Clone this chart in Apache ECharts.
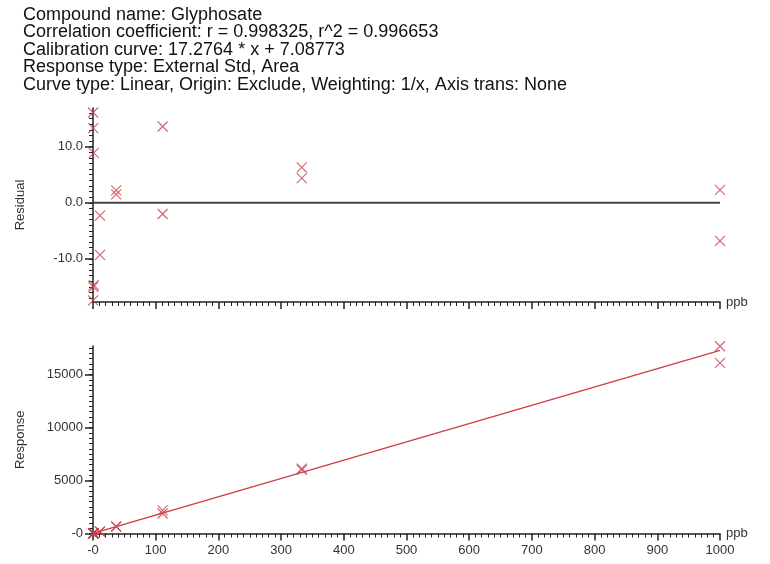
<!DOCTYPE html>
<html>
<head>
<meta charset="utf-8">
<script src="https://cdn.jsdelivr.net/npm/echarts@6/dist/echarts.min.js"></script>
<style>
  html, body { margin: 0; padding: 0; background: #fff; }
  #chart { width: 770px; height: 564px; }
</style>
</head>
<body>
<div id="chart"></div>
<script>
// header lines above the plots
var headerLines = [
  'Compound name: Glyphosate',
  'Correlation coefficient: r = 0.998325, r^2 = 0.996653',
  'Calibration curve: 17.2764 * x + 7.08773',
  'Response type: External Std, Area',
  'Curve type: Linear, Origin: Exclude, Weighting: 1/x, Axis trans: None'
]

// calibration points (ppb), two replicates per level
var conc = [0.137, 0.137, 0.41, 0.41, 1.23, 1.23, 11.1, 11.1, 37, 37, 111, 111, 333, 333, 1000, 1000]
var residual = [16.1, -17.4, 13.3, -15.0, 8.9, -14.7, -2.3, -9.3, 2.2, 1.5, 13.6, -2.0, 6.3, 4.4, 2.3, -6.8]
var response = [11.0, 7.8, 16.1, 12.1, 30.8, 24.1, 194, 180, 660, 652, 2180, 1890, 6120, 6010, 17680, 16110]

// fitted line end points
var fitX = [0, 1000]
var fitY = [7.1, 17283.5]

// zero line of the residual plot
var zeroX = [0, 1000]
var zeroY = [0, 0]

var residTicks = [-10, 0, 10]
var responseTicks = [0, 5000, 10000, 15000]

var red = '#c8404f'
var cross = 'path://M0,0L10,10M10,0L0,10'

function pairs (xs, ys) {
  return xs.map(function (x, i) { return [x, ys[i]] })
}

var minorResid = []
for (var v = -17; v <= 16; v++) minorResid.push(v)
var minorResp = []
for (var r = 0; r <= 17500; r += 500) minorResp.push(r)

var axisText = { color: '#333', fontSize: 13, fontFamily: 'Liberation Sans' }

function xAxis (grid, labels) {
  return {
    type: 'value', gridIndex: grid, min: 0, max: 1000, interval: 100,
    name: 'ppb', nameLocation: 'end', nameGap: 6,
    nameTextStyle: { color: '#333', fontSize: 13, fontFamily: 'Liberation Sans', verticalAlign: 'middle' },
    axisLine: { onZero: false, lineStyle: { color: '#222', width: 1.5 } },
    axisTick: { length: 7, lineStyle: { color: '#222', width: 1.5 } },
    minorTick: { show: true, splitNumber: 10, length: 4, lineStyle: { color: '#222', width: 1 } },
    splitLine: { show: false },
    axisLabel: Object.assign({
      show: labels, margin: 10,
      formatter: function (v) { return v === 0 ? '-0' : String(v) }
    }, axisText)
  }
}

var option = {
  animation: false,
  backgroundColor: '#fff',
  title: {
    left: 18, top: 1,
    text: headerLines.join('\n'),
    textStyle: { fontFamily: 'Liberation Sans', fontSize: 18, fontWeight: 'normal', color: '#111', lineHeight: 17.5 }
  },
  grid: [
    { left: 93, right: 50, top: 108, height: 194 },
    { left: 93, right: 50, top: 346, height: 187.5 }
  ],
  xAxis: [xAxis(0, false), xAxis(1, true)],
  yAxis: [
    {
      type: 'value', gridIndex: 0, min: -17.7, max: 16.9,
      name: 'Residual', nameLocation: 'middle', nameGap: 66,
      nameTextStyle: { color: '#333', fontSize: 13, fontFamily: 'Liberation Sans' },
      axisLine: { lineStyle: { color: '#222', width: 1.5 } },
      axisTick: { customValues: residTicks, length: 8, lineStyle: { color: '#222', width: 1.5 } },
      splitLine: { show: false },
      axisLabel: Object.assign({
        customValues: residTicks, margin: 10,
        formatter: function (v) { return v.toFixed(1) }
      }, axisText)
    },
    {
      type: 'value', gridIndex: 0, min: -17.7, max: 16.9, position: 'left',
      axisLine: { show: false },
      axisTick: { customValues: minorResid, length: 4, lineStyle: { color: '#222', width: 1 } },
      axisLabel: { show: false },
      splitLine: { show: false }
    },
    {
      type: 'value', gridIndex: 1, min: 0, max: 17700,
      name: 'Response', nameLocation: 'middle', nameGap: 66,
      nameTextStyle: { color: '#333', fontSize: 13, fontFamily: 'Liberation Sans' },
      axisLine: { onZero: false, lineStyle: { color: '#222', width: 1.5 } },
      axisTick: { customValues: responseTicks, length: 8, lineStyle: { color: '#222', width: 1.5 } },
      splitLine: { show: false },
      axisLabel: Object.assign({
        customValues: responseTicks, margin: 10,
        formatter: function (v) { return v === 0 ? '-0' : String(v) }
      }, axisText)
    },
    {
      type: 'value', gridIndex: 1, min: 0, max: 17700, position: 'left',
      axisLine: { show: false },
      axisTick: { customValues: minorResp, length: 4, lineStyle: { color: '#222', width: 1 } },
      axisLabel: { show: false },
      splitLine: { show: false }
    }
  ],
  series: [
    {
      type: 'line', xAxisIndex: 0, yAxisIndex: 0, data: pairs(zeroX, zeroY),
      symbol: 'none', lineStyle: { color: '#444', width: 2 }, z: 1
    },
    {
      type: 'scatter', xAxisIndex: 0, yAxisIndex: 0, data: pairs(conc, residual),
      symbol: cross, symbolSize: 10,
      itemStyle: { color: 'transparent', borderColor: red, borderWidth: 1.2 }
    },
    {
      type: 'line', xAxisIndex: 1, yAxisIndex: 2, data: pairs(fitX, fitY),
      symbol: 'none', lineStyle: { color: '#d03a44', width: 1.2 }, z: 1
    },
    {
      type: 'scatter', xAxisIndex: 1, yAxisIndex: 2, data: pairs(conc, response),
      symbol: cross, symbolSize: 10,
      itemStyle: { color: 'transparent', borderColor: red, borderWidth: 1.2 }
    }
  ]
}

var chart = echarts.init(document.getElementById('chart'))
chart.setOption(option)
</script>
</body>
</html>
